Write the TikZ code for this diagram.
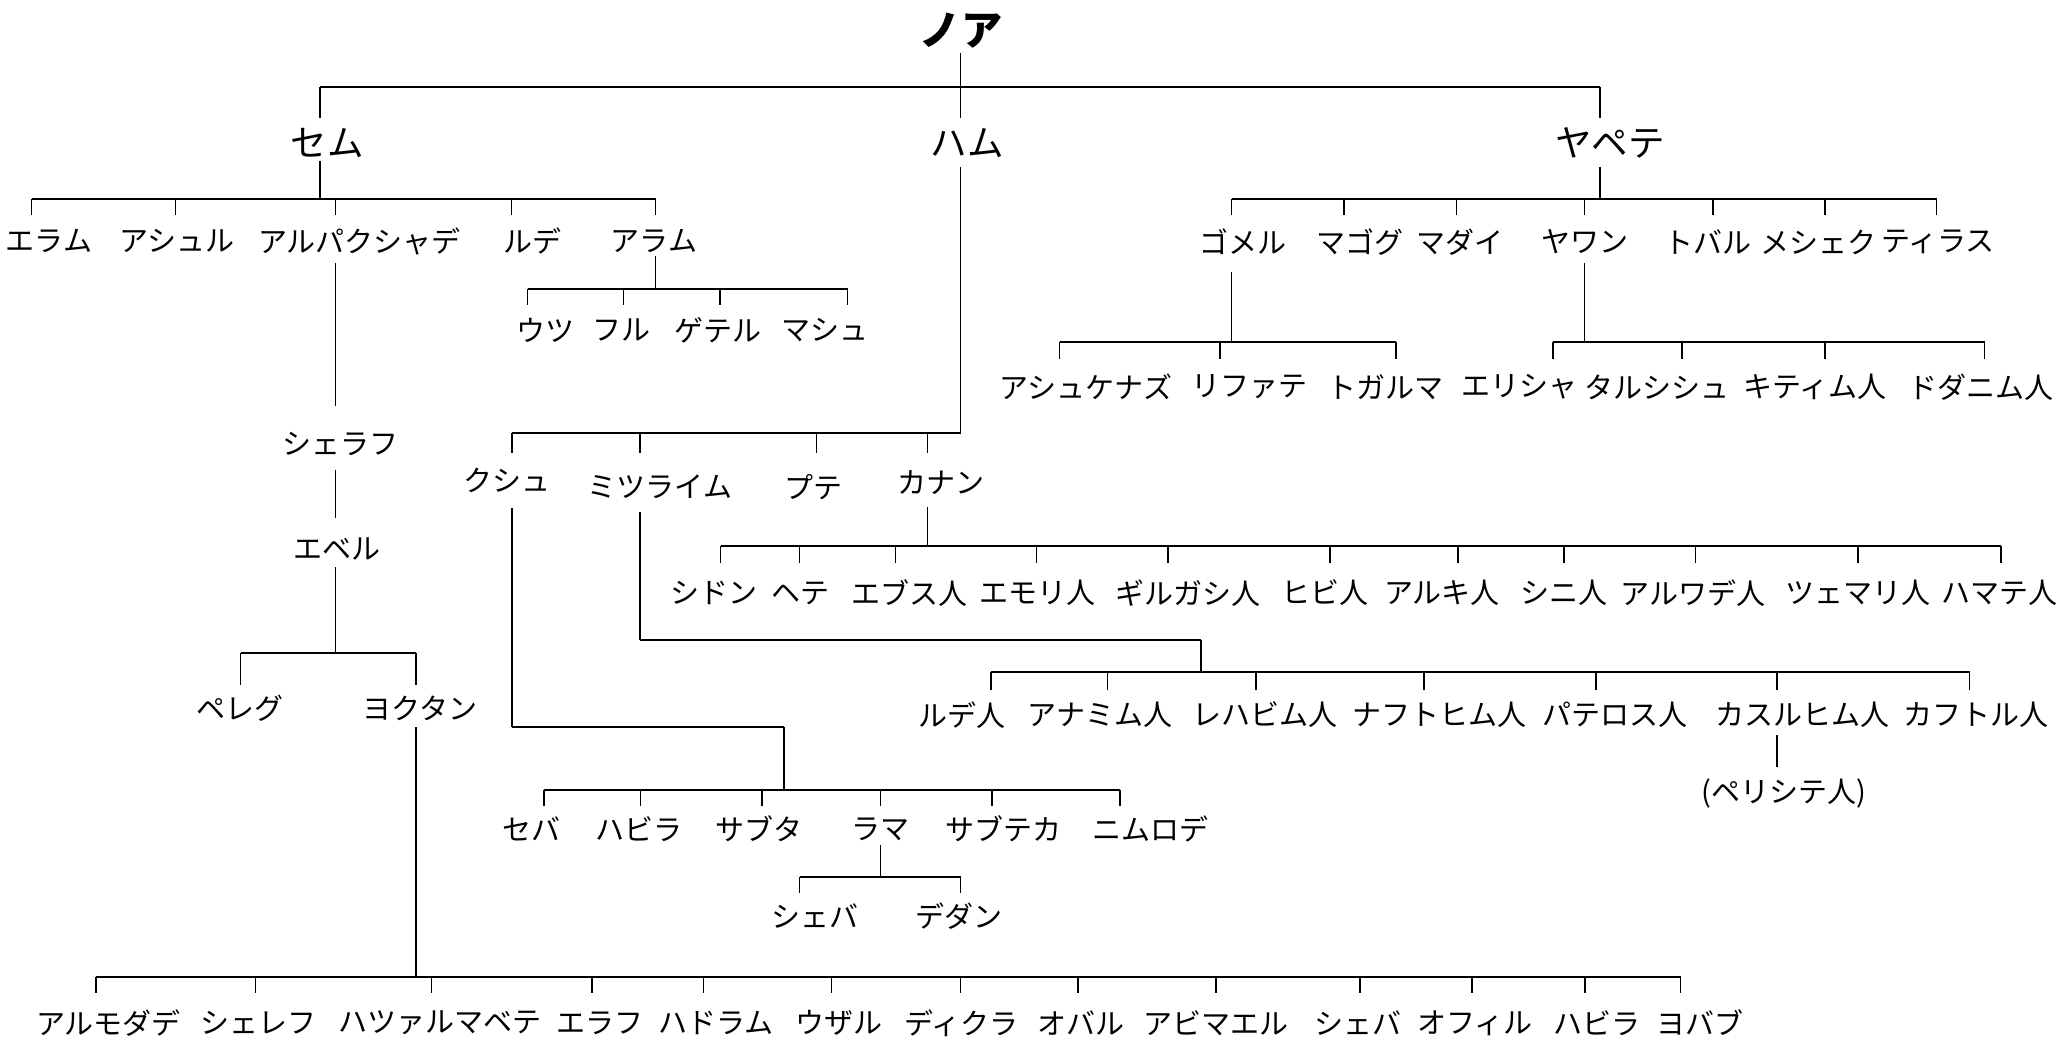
\documentclass[tikz,border=0pt]{standalone}
\usepackage{fontspec}
\newfontfamily\jp{Noto Sans CJK JP}
\begin{document}
\begin{tikzpicture}[x=0.4pt,y=-0.4pt,
  stemline/.style={line width=0.55pt,black},
  barline/.style={line width=0.85pt,black},
  person/.style={font=\jp\fontsize{11.6}{13}\selectfont,inner sep=0pt,anchor=center},
  son/.style={font=\jp\fontsize{14.6}{16}\selectfont,inner sep=0pt,anchor=center},
  patriarch/.style={font=\jp\bfseries\fontsize{16.5}{18}\selectfont,inner sep=0pt,anchor=center}]
\useasboundingbox (0,0) rectangle (2059,1038);
% family bus: #1 bar y, #2 left end, #3 right end, #4 tick bottom, #5 tick xs
\newcommand\familybus[5]{%
  \draw[barline] (#2,#1) -- (#3,#1);
  \foreach \t in {#5} \draw[stemline] (\t,#1) -- (\t,#4);
}

% ---- Noah and his sons
\node[patriarch] (noah) at (961,31) {ノア};
\node[son] (shem) at (327,143) {セム};
\node[son] (ham) at (967,143) {ハム};
\node[son] (japheth) at (1610,143) {ヤペテ};
\draw[stemline] (960.6,53) -- (960.6,118);
\draw[barline] (320,86.7) -- (1600,86.7);
\draw[stemline] (320,86.7) -- (320,118);
\draw[stemline] (1600,86.7) -- (1600,118);

% ---- Shem
\draw[stemline] (320,161) -- (320,199);
\familybus{199}{31.5}{655.7}{215}{31.5,175.4,335.7,511.8,655.7}
\node[person] (elam) at (49,241) {エラム};
\node[person] (asshur) at (177,241) {アシュル};
\node[person] (arpachshad) at (359.6,241) {アルパクシャデ};
\node[person] (lud) at (532,241) {ルデ};
\node[person] (aram) at (654,241) {アラム};

\draw[stemline] (655.7,256) -- (655.7,289);
\familybus{289}{527.6}{847.6}{305}{527.6,623.5,720.1,847.6}
\node[person] (uz) at (545,330) {ウツ};
\node[person] (hul) at (621,330) {フル};
\node[person] (gether) at (717.5,330) {ゲテル};
\node[person] (mash) at (824.6,330) {マシュ};

\draw[stemline] (335.7,263) -- (335.7,406);
\node[person] (shelah) at (340,444) {シェラフ};
\draw[stemline] (335.7,470) -- (335.7,518);
\node[person] (eber) at (337,549) {エベル};
\draw[stemline] (335.7,567) -- (335.7,652.7);
\familybus{652.7}{240.5}{416}{685}{240.5,416}
\node[person] (peleg) at (240,708) {ペレグ};
\node[person] (joktan) at (420,708) {ヨクタン};

\draw[stemline] (416,727) -- (416,976.7);
\familybus{976.7}{96}{1680.5}{992.7}{96,255.6,431.7,592,703.7,831.8,960.6,1078,1216,1360,1472,1585,1680.5}
\node[person] (almodad) at (108.5,1023) {アルモダデ};
\node[person] (sheleph) at (258,1023) {シェレフ};
\node[person] (hazarmaveth) at (440,1023) {ハツァルマベテ};
\node[person] (jerah) at (600,1023) {エラフ};
\node[person] (hadoram) at (716,1023) {ハドラム};
\node[person] (uzal) at (839,1023) {ウザル};
\node[person] (diklah) at (961,1023) {ディクラ};
\node[person] (obal) at (1081,1023) {オバル};
\node[person] (abimael) at (1216,1023) {アビマエル};
\node[person] (shebaj) at (1358,1023) {シェバ};
\node[person] (ophir) at (1475,1023) {オフィル};
\node[person] (havilahj) at (1597,1023) {ハビラ};
\node[person] (jobab) at (1700,1023) {ヨバブ};

% ---- Ham
\draw[stemline] (960.6,167) -- (960.6,433.3);
\familybus{433.3}{512}{960.6}{452.7}{512,640,816.7,927.7}
\node[person] (cush) at (507,480) {クシュ};
\node[person] (mizraim) at (660,487) {ミツライム};
\node[person] (put) at (813,487) {プテ};
\node[person] (canaan) at (941,483) {カナン};

% Cush
\draw[stemline] (512,508) -- (512,726.7);
\draw[barline] (512,726.7) -- (784,726.7);
\draw[stemline] (784,726.7) -- (784,790);
\familybus{790}{544}{1120}{806}{544,640.6,762,880.4,992,1120}
\node[person] (seba) at (531,829) {セバ};
\node[person] (havilah) at (639,829) {ハビラ};
\node[person] (sabtah) at (759,829) {サブタ};
\node[person] (raamah) at (880,829) {ラマ};
\node[person] (sabteca) at (1003,829) {サブテカ};
\node[person] (nimrod) at (1150,829) {ニムロデ};
\draw[stemline] (880.4,845) -- (880.4,876.7);
\familybus{876.7}{799.6}{960.6}{893}{799.6,960.6}
\node[person] (sheba) at (815,916) {シェバ};
\node[person] (dedan) at (959,916) {デダン};

% Mizraim
\draw[stemline] (640,512) -- (640,640);
\draw[barline] (640,640) -- (1200.8,640);
\draw[stemline] (1200.8,640) -- (1200.8,671.7);
\familybus{671.7}{990.8}{1969.5}{690}{990.8,1107.5,1256,1424,1596,1777,1969.5}
\node[person] (ludim) at (962,715) {ルデ人};
\node[person] (anamim) at (1100,715) {アナミム人};
\node[person] (lehabim) at (1265,715) {レハビム人};
\node[person] (naphtuhim) at (1439,715) {ナフトヒム人};
\node[person] (pathrusim) at (1615,715) {パテロス人};
\node[person] (casluhim) at (1802,715) {カスルヒム人};
\node[person] (caphtorim) at (1976,715) {カフトル人};
\draw[stemline] (1777,735) -- (1777,767);
\node[person] (philistines) at (1784,793) {(ペリシテ人)};

% Canaan
\draw[stemline] (927.7,507) -- (927.7,546);
\familybus{546}{720.8}{2001}{563}{720.8,799.6,895.5,1036.6,1168,1330,1458,1564,1695.6,1857.8,2001}
\node[person] (sidon) at (714,593) {シドン};
\node[person] (heth) at (800,593) {ヘテ};
\node[person] (jebusite) at (909.5,593) {エブス人};
\node[person] (amorite) at (1037,593) {エモリ人};
\node[person] (girgashite) at (1188,593) {ギルガシ人};
\node[person] (hivite) at (1325,593) {ヒビ人};
\node[person] (arkite) at (1442,593) {アルキ人};
\node[person] (sinite) at (1564,593) {シニ人};
\node[person] (arvadite) at (1693,593) {アルワデ人};
\node[person] (zemarite) at (1858,593) {ツェマリ人};
\node[person] (hamathite) at (1999,593) {ハマテ人};

% ---- Japheth
\draw[stemline] (1600,167) -- (1600,199);
\familybus{199}{1231.7}{1936.7}{215}{1231.7,1344,1456.4,1584.5,1713,1825,1936.7}
\node[person] (gomer) at (1243,242) {ゴメル};
\node[person] (magog) at (1360,242) {マゴグ};
\node[person] (madai) at (1460,242) {マダイ};
\node[person] (javan) at (1585,242) {ヤワン};
\node[person] (tubal) at (1708,242) {トバル};
\node[person] (meshech) at (1818,242) {メシェク};
\node[person] (tiras) at (1938,242) {ティラス};

\draw[stemline] (1231.7,272) -- (1231.7,342);
\familybus{342}{1059.6}{1396}{359}{1059.6,1220,1396}
\node[person] (ashkenaz) at (1086,387) {アシュケナズ};
\node[person] (riphath) at (1249,387) {リファテ};
\node[person] (togarmah) at (1385,387) {トガルマ};

\draw[stemline] (1584.5,263) -- (1584.5,342);
\familybus{342}{1553}{1984.7}{359}{1553,1681.8,1825,1984.7}
\node[person] (elishah) at (1519,387) {エリシャ};
\node[person] (tarshish) at (1657,387) {タルシシュ};
\node[person] (kittim) at (1815,387) {キティム人};
\node[person] (dodanim) at (1981,387) {ドダニム人};
\end{tikzpicture}
\end{document}
